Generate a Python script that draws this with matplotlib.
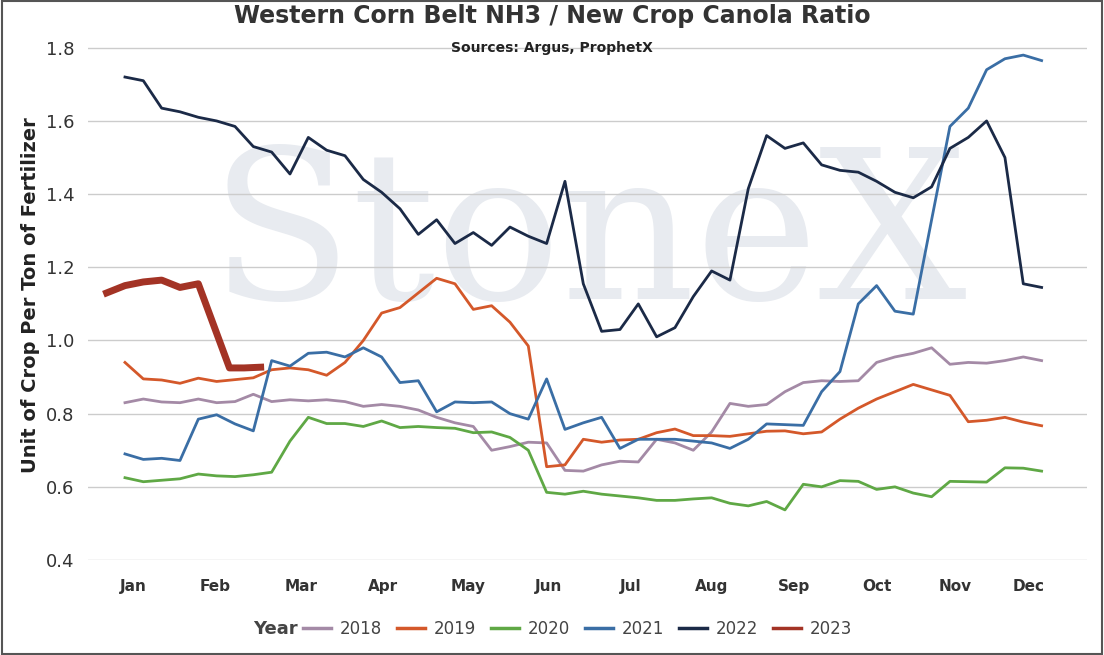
import numpy as np
import matplotlib.pyplot as plt
from matplotlib.lines import Line2D

months = ['Jan', 'Feb', 'Mar', 'Apr', 'May', 'Jun', 'Jul', 'Aug', 'Sep', 'Oct', 'Nov', 'Dec']
month_pos = [0.44, 4.9, 9.6, 14.1, 18.7, 23.1, 27.6, 32.0, 36.5, 41.0, 45.3, 49.3]

y2018 = [0.83, 0.84, 0.832, 0.83, 0.84, 0.83, 0.833, 0.853, 0.833, 0.838, 0.835, 0.838, 0.833,
         0.82, 0.825, 0.82, 0.81, 0.79, 0.775, 0.765, 0.70, 0.71, 0.722, 0.72, 0.645, 0.643,
         0.66, 0.67, 0.668, 0.73, 0.72, 0.70, 0.75, 0.828, 0.82, 0.825, 0.86, 0.885, 0.89,
         0.888, 0.89, 0.94, 0.955, 0.965, 0.98, 0.935, 0.94, 0.938, 0.945, 0.955, 0.945]
y2019 = [0.94, 0.895, 0.892, 0.883, 0.897, 0.888, 0.893, 0.898, 0.92, 0.925, 0.92, 0.905, 0.94,
         1.0, 1.075, 1.09, 1.13, 1.17, 1.155, 1.085, 1.095, 1.05, 0.985, 0.655, 0.66, 0.73,
         0.722, 0.728, 0.73, 0.748, 0.758, 0.74, 0.74, 0.738, 0.745, 0.752, 0.753, 0.745, 0.75,
         0.785, 0.815, 0.84, 0.86, 0.88, 0.865, 0.85, 0.778, 0.782, 0.79, 0.777, 0.767]
y2020 = [0.625, 0.614, 0.618, 0.622, 0.635, 0.63, 0.628, 0.633, 0.64, 0.725, 0.79, 0.773, 0.773,
         0.765, 0.78, 0.762, 0.765, 0.762, 0.76, 0.748, 0.75, 0.735, 0.70, 0.585, 0.58, 0.588,
         0.58, 0.575, 0.57, 0.563, 0.563, 0.567, 0.57, 0.555, 0.548, 0.56, 0.537, 0.607, 0.6,
         0.617, 0.615, 0.593, 0.6, 0.583, 0.573, 0.615, 0.614, 0.613, 0.652, 0.651, 0.643]
y2021 = [0.69, 0.675, 0.678, 0.672, 0.785, 0.797, 0.772, 0.753, 0.945, 0.93, 0.965, 0.968, 0.955,
         0.98, 0.955, 0.885, 0.89, 0.805, 0.832, 0.83, 0.832, 0.80, 0.785, 0.895, 0.757, 0.775,
         0.79, 0.705, 0.73, 0.73, 0.73, 0.725, 0.72, 0.705, 0.73, 0.772, 0.77, 0.768, 0.86,
         0.915, 1.10, 1.15, 1.08, 1.072, 1.33, 1.585, 1.635, 1.74, 1.77, 1.78, 1.765]
y2022 = [1.72, 1.71, 1.635, 1.625, 1.61, 1.60, 1.585, 1.53, 1.515, 1.455, 1.555, 1.52, 1.505,
         1.44, 1.405, 1.36, 1.29, 1.33, 1.265, 1.295, 1.26, 1.31, 1.285, 1.265, 1.435, 1.155,
         1.025, 1.03, 1.10, 1.01, 1.035, 1.12, 1.19, 1.165, 1.415, 1.56, 1.525, 1.54, 1.48,
         1.465, 1.46, 1.435, 1.405, 1.39, 1.42, 1.525, 1.555, 1.60, 1.50, 1.155, 1.145]
y2023 = [1.13, 1.15, 1.16, 1.165, 1.145, 1.155, 0.925, 0.925, 0.927]
x2023 = [-1, 0, 1, 2, 3, 4, 5.7, 6.5, 7.4]

series = [('2018', y2018, '#a48aa6'), ('2019', y2019, '#d4582a'), ('2020', y2020, '#5fa845'),
          ('2021', y2021, '#3a6ea5'), ('2022', y2022, '#1b2a47')]
c2023 = '#a33325'

fig = plt.figure(figsize=(11.04, 6.55), dpi=100)
ax = fig.add_axes([0.08, 0.145, 0.905, 0.81])

# watermark
ax.text(0.5, 0.6, 'StoneX', transform=ax.transAxes, fontsize=150, family='DejaVu Serif',
        color='#e8ebf0', ha='center', va='center', zorder=0)

for name, ys, c in series:
    ax.plot(np.arange(len(ys)), ys, color=c, lw=2, zorder=2)
ax.plot(x2023, y2023, color=c2023, lw=5, zorder=3)

ax.set_ylim(0.4, 1.85)
ax.set_xlim(-2, 52.5)
ax.set_yticks([0.4, 0.6, 0.8, 1.0, 1.2, 1.4, 1.6, 1.8])
ax.set_yticklabels([f'{v:.1f}' for v in ax.get_yticks()], fontsize=13, color='#333333')
ax.set_xticks(month_pos)
ax.set_xticklabels(months, fontsize=11, fontweight='bold', color='#333333')
ax.tick_params(length=0)
ax.tick_params(axis='x', pad=14)
ax.tick_params(axis='y', pad=10)
ax.grid(axis='y', color='#cccccc', lw=1)
for s in ax.spines.values():
    s.set_visible(False)
ax.set_ylabel('Unit of Crop Per Ton of Fertilizer', fontsize=14, fontweight='bold', color='#222222')

fig.text(0.5, 0.975, 'Western Corn Belt NH3 / New Crop Canola Ratio', ha='center', va='center',
         fontsize=17, fontweight='bold', color='#333333')
fig.text(0.5, 0.926, 'Sources: Argus, ProphetX', ha='center', va='center',
         fontsize=10, fontweight='bold', color='#222222')

handles = [Line2D([], [], color=c, lw=2.5) for _, _, c in series] + [Line2D([], [], color=c2023, lw=2.5)]
labels = [n for n, _, _ in series] + ['2023']
leg = fig.legend(handles, labels, loc='center', ncol=6, frameon=False, fontsize=12,
                 handlelength=1.7, handletextpad=0.5, columnspacing=0.9,
                 bbox_to_anchor=(0.523, 0.04))
for t in leg.get_texts():
    t.set_color('#444444')
fig.text(0.27, 0.04, 'Year', ha='right', va='center', fontsize=13, fontweight='bold', color='#444444')

fig.patches.append(plt.Rectangle((0.002, 0.002), 0.996, 0.996, transform=fig.transFigure,
                                 fill=False, ec='#555555', lw=1.5))
fig.savefig('out.png', dpi=100)
